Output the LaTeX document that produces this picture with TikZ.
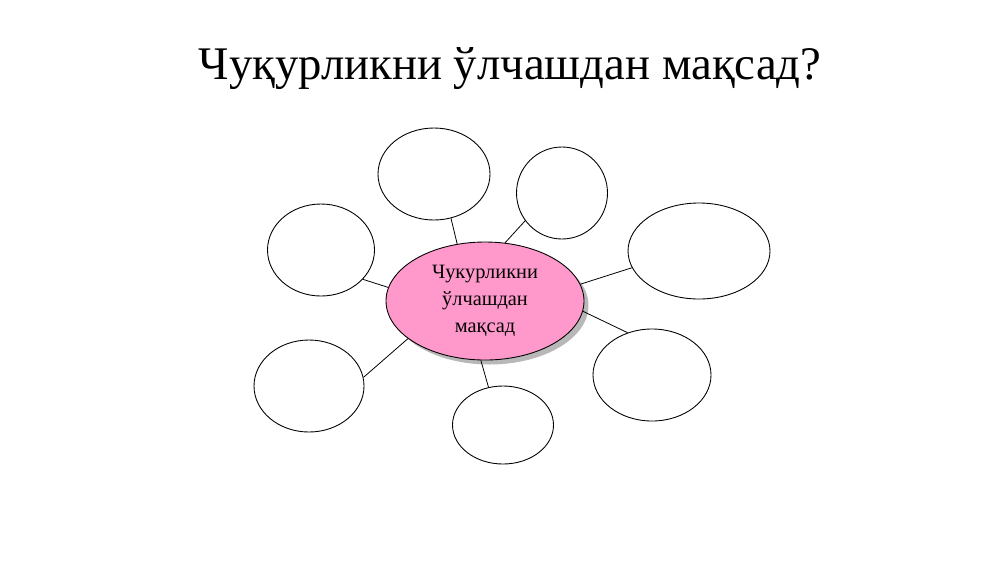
\documentclass[tikz,border=0pt]{standalone}
\usepackage{fontspec}
\setmainfont{Liberation Serif}
\usetikzlibrary{shapes.geometric,shadows}
\definecolor{pinkfill}{RGB}{255,153,204}
\tikzset{
  bubble/.style 2 args={ellipse, draw=black, line width=0.5pt, fill=white,
    minimum width=#1*0.02cm, minimum height=#2*0.02cm, inner sep=0pt},
  link/.style={draw=black, line width=0.45pt},
}
\begin{document}
\begin{tikzpicture}[x=0.02cm,y=-0.02cm]
\useasboundingbox (0,0) rectangle (1000,562);
\node[font=\fontsize{26.6}{30}\selectfont] (title) at (510,69) {Чуқурликни ўлчашдан мақсад?};
\node[bubble={198}{118}, fill=pinkfill, align=center,
  font=\fontsize{11.6}{15.5}\selectfont,
  drop shadow={shadow xshift=0.09cm, shadow yshift=-0.09cm, fill=black!35, opacity=0.8}]
  (c) at (485,301) {Чукурликни\\ўлчашдан\\мақсад};
\node[bubble={112}{92}] (t) at (434,174) {};
\node[bubble={91}{92}] (tr) at (562,193) {};
\node[bubble={107}{92}] (l) at (321,250) {};
\node[bubble={142}{96}] (r) at (699,251) {};
\node[bubble={110}{92}] (bl) at (309,386) {};
\node[bubble={101}{78}] (b) at (503,425) {};
\node[bubble={118}{92}] (br) at (652,375) {};
\draw[link] (c.116.6) -- (t.291);
\draw[link] (c.71.3) -- (tr.217.6);
\draw[link] (c.172) -- (l.325);
\draw[link] (c.10.4) -- (r.194.5);
\draw[link] (c.354.4) -- (br.120.8);
\draw[link] (c.266) -- (b.111);
\draw[link] (c.206.6) -- (bl.9);
\end{tikzpicture}
\end{document}
